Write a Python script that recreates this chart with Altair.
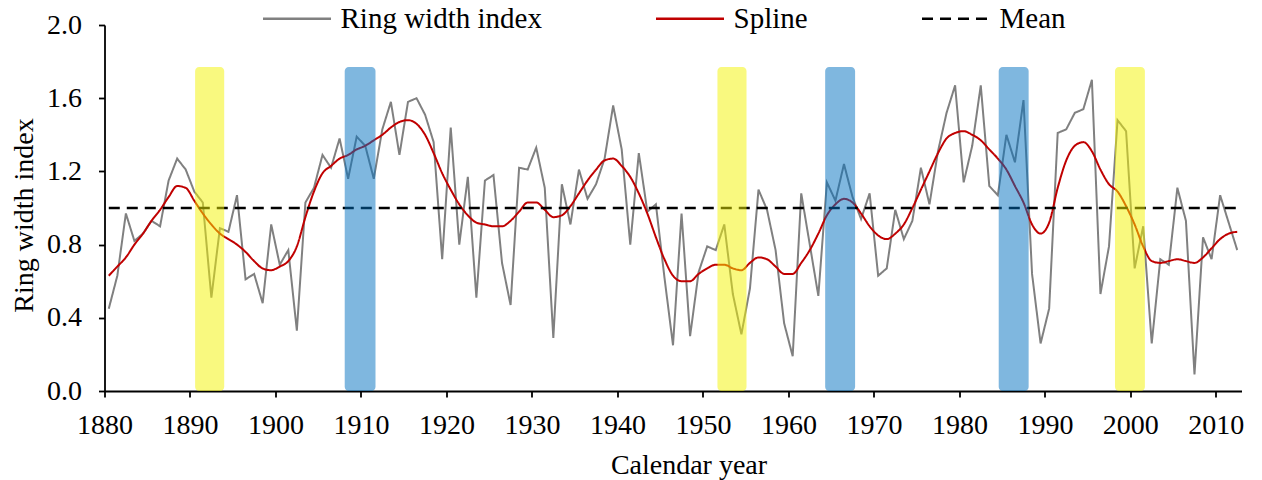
import altair as alt
import pandas as pd

FONT = "Liberation Serif"

start_year = 1880
ring_width = [
    0.45, 0.63, 0.97, 0.82, 0.86, 0.93, 0.90, 1.15, 1.27, 1.21,
    1.09, 1.03, 0.51, 0.89, 0.87, 1.07, 0.61, 0.64, 0.48, 0.91,
    0.69, 0.77, 0.33, 1.03, 1.11, 1.29, 1.22, 1.38, 1.16, 1.39,
    1.34, 1.16, 1.43, 1.58, 1.29, 1.58, 1.60, 1.51, 1.36, 0.72,
    1.44, 0.80, 1.17, 0.51, 1.15, 1.18, 0.70, 0.47, 1.22, 1.21,
    1.33, 1.11, 0.29, 1.13, 0.91, 1.21, 1.05, 1.13, 1.27, 1.56,
    1.32, 0.80, 1.30, 0.98, 1.02, 0.62, 0.25, 0.97, 0.30, 0.65,
    0.79, 0.77, 0.91, 0.53, 0.31, 0.56, 1.10, 0.99, 0.77, 0.37,
    0.19, 1.08, 0.80, 0.52, 1.14, 1.04, 1.24, 1.06, 0.94, 1.08,
    0.63, 0.67, 0.99, 0.83, 0.93, 1.22, 1.02, 1.31, 1.52, 1.67,
    1.14, 1.34, 1.67, 1.12, 1.07, 1.40, 1.25, 1.59, 0.64, 0.26,
    0.45, 1.41, 1.43, 1.52, 1.54, 1.70, 0.53, 0.79, 1.48, 1.42,
    0.67, 0.90, 0.26, 0.72, 0.69, 1.11, 0.93, 0.09, 0.84, 0.72,
    1.07, 0.92, 0.77,
]
spline = [
    0.63, 0.68, 0.73, 0.80, 0.86, 0.93, 0.99, 1.06, 1.12, 1.11,
    1.04, 0.97, 0.91, 0.86, 0.83, 0.80, 0.76, 0.71, 0.67, 0.66,
    0.68, 0.71, 0.79, 0.95, 1.09, 1.19, 1.23, 1.27, 1.29, 1.32,
    1.34, 1.37, 1.40, 1.44, 1.47, 1.48, 1.46, 1.40, 1.30, 1.19,
    1.10, 1.02, 0.96, 0.92, 0.91, 0.90, 0.90, 0.93, 0.98, 1.03,
    1.03, 0.99, 0.95, 0.96, 1.01, 1.08, 1.15, 1.21, 1.26, 1.27,
    1.23, 1.17, 1.08, 0.97, 0.84, 0.72, 0.63, 0.60, 0.60, 0.64,
    0.67, 0.69, 0.69, 0.67, 0.66, 0.70, 0.73, 0.72, 0.68, 0.64,
    0.64, 0.70, 0.77, 0.86, 0.96, 1.02, 1.05, 1.03, 0.97, 0.90,
    0.85, 0.83, 0.86, 0.91, 1.00, 1.10, 1.20, 1.30, 1.38, 1.41,
    1.42, 1.40, 1.37, 1.32, 1.27, 1.21, 1.12, 1.03, 0.91, 0.86,
    0.92, 1.11, 1.26, 1.34, 1.36, 1.31, 1.21, 1.13, 1.09, 1.01,
    0.91, 0.79, 0.71, 0.70, 0.71, 0.72, 0.71, 0.70, 0.73, 0.78,
    0.83, 0.86, 0.87,
]
mean_value = 1.0

# highlighted periods (positions on the calendar-year axis)
yellow_start = [1890.6, 1951.7, 1998.2]
yellow_end = [1894.0, 1955.1, 2001.7]
blue_start = [1908.1, 1964.3, 1984.6]
blue_end = [1911.7, 1967.8, 1988.1]
band_top = 1.77

series_names = ["Ring width index", "Spline", "Mean"]
series_colors = ["#808080", "#C00000", "#000000"]

years = list(range(start_year, start_year + len(ring_width)))
rows = []
for yr, r, s in zip(years, ring_width, spline):
    xpos = yr + 0.5
    rows.append({"x": xpos, "value": r, "series": "Ring width index"})
    rows.append({"x": xpos, "value": s, "series": "Spline"})
    rows.append({"x": xpos, "value": mean_value, "series": "Mean"})
df = pd.DataFrame(rows)

bands = pd.DataFrame(
    [{"start": a, "end": b, "kind": "yellow", "low": 0.0, "high": band_top}
     for a, b in zip(yellow_start, yellow_end)]
    + [{"start": a, "end": b, "kind": "blue", "low": 0.0, "high": band_top}
       for a, b in zip(blue_start, blue_end)]
)

x_enc = alt.X(
    "x:Q",
    scale=alt.Scale(domain=[1880, 2013], nice=False, zero=False),
    axis=alt.Axis(
        values=list(range(1880, 2011, 10)), format="d", title="Calendar year",
        labelFlush=False, labelOverlap=False, labelPadding=14,
        titleX=584, titleY=82, titleBaseline="alphabetic", titleAlign="center",
    ),
)
y_enc = alt.Y(
    "value:Q",
    scale=alt.Scale(domain=[0, 2], nice=False),
    axis=alt.Axis(
        values=[0, 0.4, 0.8, 1.2, 1.6, 2.0], format=".1f", title="Ring width index",
        labelFlush=False, labelOverlap=False, labelPadding=17,
        titleX=-80, titleY=190, titleBaseline="middle", titleAlign="center",
    ),
)

legend_cfg = dict(
    title=None, orient="none", legendX=157, legendY=-42, direction="horizontal",
    symbolType="stroke", symbolSize=4624, symbolStrokeWidth=2.5,
    labelFontSize=29, labelFont=FONT, labelColor="black", labelOffset=8,
    columnPadding=108, padding=0, labelLimit=0,
)
color_enc = alt.Color(
    "series:N",
    scale=alt.Scale(domain=series_names, range=series_colors),
    legend=alt.Legend(**legend_cfg),
)
dash_enc = alt.StrokeDash(
    "series:N",
    scale=alt.Scale(domain=series_names, range=[[1, 0], [1, 0], [11, 7]]),
    legend=alt.Legend(**legend_cfg),
)

base = alt.Chart(df)
gray = base.transform_filter(alt.datum.series == "Ring width index").mark_line(
    strokeWidth=2
).encode(x=x_enc, y=y_enc, color=color_enc, strokeDash=dash_enc)
red = base.transform_filter(alt.datum.series == "Spline").mark_line(
    strokeWidth=2, interpolate="monotone"
).encode(x=x_enc, y=y_enc, color=color_enc, strokeDash=dash_enc)
mean = base.transform_filter(alt.datum.series == "Mean").mark_line(
    strokeWidth=2.5
).encode(x=x_enc, y=y_enc, color=color_enc, strokeDash=dash_enc)

rects = alt.Chart(bands).mark_rect(opacity=0.5, cornerRadius=4).encode(
    x="start:Q",
    x2="end:Q",
    y="low:Q",
    y2="high:Q",
    fill=alt.Fill("kind:N", scale=alt.Scale(domain=["yellow", "blue"],
                                            range=["#F4F400", "#0070C0"]),
                  legend=None),
)

chart = alt.layer(gray, red, mean, rects).properties(
    width=1137, height=366,
    background="white",
    autosize=alt.AutoSizeParams(type="none"),
    padding={"left": 104.5, "top": 25, "right": 20, "bottom": 89},
).configure_view(stroke=None).configure_axis(
    grid=False, domainColor="black", domainWidth=1.8, tickColor="black",
    tickWidth=1.8, tickSize=6, labelFont=FONT, labelFontSize=28,
    labelColor="black", titleFont=FONT, titleFontSize=28,
    titleFontWeight="normal", titleColor="black", zindex=1,
)

chart.save("out.html", embed_options={"renderer": "svg", "actions": False})
